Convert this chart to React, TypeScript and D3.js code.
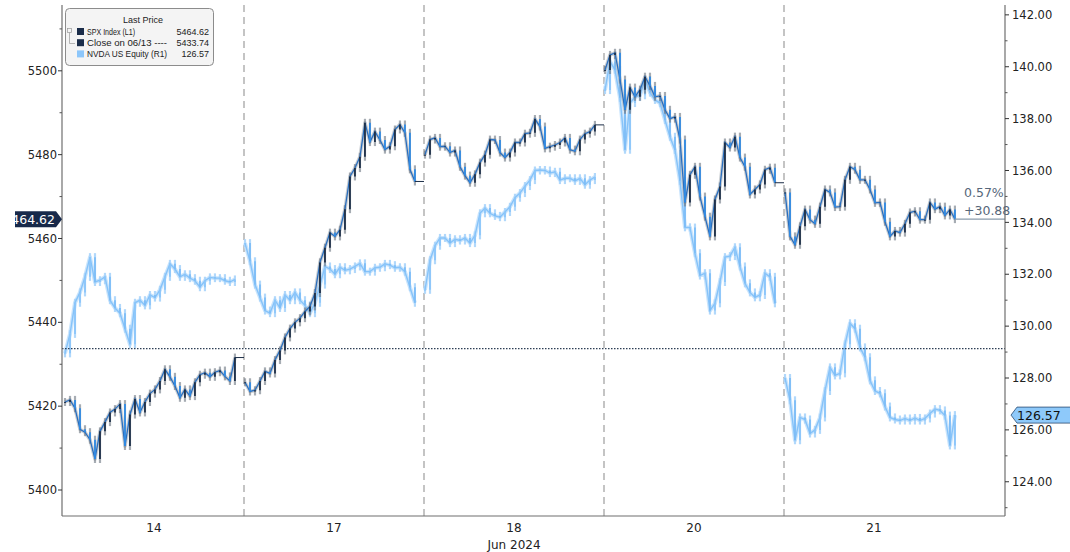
import React, { useEffect, useRef } from "react";
import * as d3 from "d3";

// trading days shown on the x axis
const dayLabels = ["14", "17", "18", "20", "21"];
const monthLabel = "Jun 2024";

// SPX Index intraday closes (left axis), one array per session
const spx14 = [5421, 5421.5, 5419.5, 5414.5, 5413.8, 5412, 5407.4, 5414, 5416.2, 5418.5, 5419.3, 5420.5, 5410.5, 5418, 5421.7, 5418.5, 5421, 5423, 5424, 5426, 5428.8, 5427, 5424.8, 5422, 5424, 5422.4, 5425.7, 5427.5, 5428, 5427, 5428.1, 5428.5, 5427.1, 5426, 5431.6];
const spx17 = [5425.7, 5423.5, 5423.8, 5426, 5428.3, 5427.8, 5431, 5433.3, 5436.4, 5438.5, 5440, 5441, 5442.6, 5443.8, 5447, 5454.3, 5457.8, 5461.4, 5460.5, 5462.1, 5467, 5474.8, 5476.8, 5479.5, 5487.6, 5483, 5485.5, 5483.5, 5481.2, 5482, 5486, 5487.2, 5485.2, 5476.5, 5473.6];
const spx18 = [5480, 5483.6, 5484, 5481.9, 5482, 5480.5, 5481, 5477.1, 5475, 5473.3, 5475.3, 5478.1, 5480, 5483.6, 5483.5, 5480.5, 5479.3, 5480.5, 5482.9, 5482.9, 5485, 5485.2, 5488.5, 5486.7, 5481.5, 5481.9, 5482.3, 5482.9, 5484, 5481.2, 5480.8, 5483.6, 5485, 5485.5, 5487.1];
const spx20 = [5500.2, 5503.8, 5504.3, 5497.9, 5490.7, 5496, 5493.8, 5495.5, 5498.6, 5496.4, 5493.8, 5494, 5490.7, 5488.6, 5489, 5483.6, 5468.6, 5475.2, 5477.1, 5470, 5465.2, 5460.5, 5469.3, 5472.4, 5482.9, 5481.7, 5484.3, 5479.3, 5477.1, 5470.5, 5471.7, 5472.9, 5476.4, 5476.9, 5473.3];
const spx21 = [5471, 5460.5, 5458.5, 5462.9, 5466.9, 5464.5, 5463.5, 5467.6, 5471.7, 5471, 5467.5, 5467.6, 5474, 5477.1, 5476.4, 5474, 5474, 5471.7, 5468.5, 5468.6, 5464, 5460.5, 5461.8, 5461.4, 5463.5, 5466.2, 5466.5, 5464.5, 5464.5, 5468.6, 5467, 5467.6, 5465.5, 5466.9, 5464.62];

// NVDA US Equity intraday prices (right axis)
const nvda14 = [128.95, 129.7, 130.9, 131.3, 131.9, 132.66, 131.7, 131.77, 131.9, 131, 130.7, 130.5, 129.9, 129.3, 130.9, 131, 130.8, 131.2, 131.1, 131.4, 131.9, 132.4, 132.2, 131.9, 132.0, 131.85, 131.75, 131.5, 131.75, 131.88, 131.85, 131.85, 131.75, 131.7, 131.8];
const nvda17 = [133.2, 132.5, 131.6, 131.1, 130.6, 130.5, 131.0, 130.7, 131.2, 131.0, 131.3, 131.0, 130.8, 130.5, 130.9, 131.6, 132.3, 132.2, 132.0, 132.27, 132.15, 132.2, 132.3, 132.42, 132.1, 132.1, 132.25, 132.27, 132.4, 132.35, 132.25, 132.27, 132.1, 131.5, 130.9];
const nvda18 = [131.4, 132.54, 133.1, 133.4, 133.4, 133.2, 133.35, 133.3, 133.4, 133.2, 133.5, 134.35, 134.55, 134.35, 134.25, 134.2, 134.4, 134.6, 134.95, 135.13, 135.4, 135.63, 136.0, 136.02, 136.0, 135.9, 135.95, 135.63, 135.7, 135.7, 135.6, 135.7, 135.45, 135.63, 135.75];
const nvda20 = [139.1, 140.2, 139.88, 138.8, 136.8, 138.6, 138.83, 138.9, 139.49, 139.0, 138.72, 138.6, 137.95, 137.3, 136.79, 135.6, 133.81, 133.8, 132.81, 131.95, 132.04, 130.6, 130.88, 131.7, 132.66, 132.7, 133.04, 132.3, 131.65, 131.3, 131.11, 131.2, 132.04, 131.9, 130.88];
const nvda21 = [128.0, 127.14, 125.6, 126.48, 126.4, 125.86, 126.0, 126.48, 127.5, 128.41, 128.1, 128.18, 129.3, 130.11, 129.9, 129.18, 128.8, 127.91, 127.5, 127.41, 126.9, 126.48, 126.4, 126.36, 126.44, 126.36, 126.46, 126.36, 126.44, 126.63, 126.8, 126.75, 126.55, 125.4, 126.57];

const spxDays = [spx14, spx17, spx18, spx20, spx21];
const nvdaDays = [nvda14, nvda17, nvda18, nvda20, nvda21];

const leftTicks = [5400, 5420, 5440, 5460, 5480, 5500];
const leftMinor = [5410, 5430, 5450, 5470, 5490, 5510];
const rightTicks = [124, 126, 128, 130, 132, 134, 136, 138, 140, 142];
const rightMinor = [123, 125, 127, 129, 131, 133, 135, 137, 139, 141];

const prevClose = 5433.74;
const spxLast = 5464.62;
const nvdaLast = 126.57;
const changePct = "0.57%";
const changeAbs = "+30.88";

const legendRows = [
  { label: "SPX Index  (L1)", value: "5464.62", color: "#1b2d4a", len: 48 },
  { label: "Close on 06/13 ----", value: "5433.74", color: "#1b2d4a", len: 80 },
  { label: "NVDA US Equity  (R1)", value: "126.57", color: "#8cc6fa", len: 80 },
];

const W = 1070;
const H = 552;
const plot = { left: 62, right: 1005, top: 5, bottom: 516 };
const FONT = "'DejaVu Sans', Verdana, sans-serif";

type Style = {
  halo: string;
  haloOp: number;
  haloW: number;
  wick: string;
  wickOp: number;
  up: string;
  down: string;
  line: string;
  lineW: number;
};

const App: React.FC = () => {
  const ref = useRef<SVGSVGElement | null>(null);

  useEffect(() => {
    if (!ref.current) return;
    const svg = d3.select(ref.current);
    svg.selectAll("*").remove();

    const x = d3.scaleLinear().domain([0, 5]).range([64, 964]);
    const yL = d3.scaleLinear().domain([5393.8, 5515.7]).range([plot.bottom, plot.top]);
    const yR = d3.scaleLinear().domain([122.68, 142.38]).range([plot.bottom, plot.top]);
    const pos = (d: number, i: number, n: number) => x(d + 0.0056 + (i * 0.944) / (n - 1));

    const defs = svg.append("defs");
    defs
      .append("clipPath")
      .attr("id", "plotclip")
      .append("rect")
      .attr("x", plot.left)
      .attr("y", plot.top)
      .attr("width", plot.right - plot.left)
      .attr("height", plot.bottom - plot.top);
    defs
      .append("clipPath")
      .attr("id", "tagclip")
      .append("rect")
      .attr("x", 15)
      .attr("y", 0)
      .attr("width", 60)
      .attr("height", H);

    // day separators
    svg
      .append("g")
      .selectAll("line")
      .data([1, 2, 3, 4])
      .join("line")
      .attr("x1", (d) => x(d))
      .attr("x2", (d) => x(d))
      .attr("y1", plot.top)
      .attr("y2", plot.bottom)
      .attr("stroke", "#c4c4c4")
      .attr("stroke-width", 2)
      .attr("stroke-dasharray", "7 5");

    const drawSeries = (days: number[][], y: d3.ScaleLinear<number, number>, c: Style) => {
      const g = svg.append("g").attr("clip-path", "url(#plotclip)");
      const line = d3
        .line<{ x: number; c: number }>()
        .x((p) => p.x)
        .y((p) => y(p.c));
      days.forEach((vals, d) => {
        const n = vals.length;
        const pts = vals.map((v, i) => ({ x: pos(d, i, n), o: i === 0 ? v : vals[i - 1], c: v }));
        // soft band behind the price trace
        g.append("path")
          .datum(pts)
          .attr("fill", "none")
          .attr("stroke", c.halo)
          .attr("stroke-opacity", c.haloOp)
          .attr("stroke-width", c.haloW)
          .attr("stroke-linejoin", "round")
          .attr("d", line);
        g.selectAll(null)
          .data(pts)
          .join("line")
          .attr("x1", (p) => p.x)
          .attr("x2", (p) => p.x)
          .attr("y1", (p) => y(Math.max(p.o, p.c)) - 4)
          .attr("y2", (p) => y(Math.min(p.o, p.c)) + 4)
          .attr("stroke", c.wick)
          .attr("stroke-opacity", c.wickOp)
          .attr("stroke-width", 2.2);
        g.append("path")
          .datum(pts)
          .attr("fill", "none")
          .attr("stroke", c.line)
          .attr("stroke-width", c.lineW)
          .attr("d", line);
        g.selectAll(null)
          .data(pts)
          .join("line")
          .attr("x1", (p) => p.x)
          .attr("x2", (p) => p.x)
          .attr("y1", (p) => y(p.o))
          .attr("y2", (p) => y(p.c) + (p.c === p.o ? 1 : 0))
          .attr("stroke", (p) => (p.c >= p.o ? c.up : c.down))
          .attr("stroke-width", 1.8);
      });
    };

    drawSeries(nvdaDays, yR, {
      halo: "#c3e1fc",
      haloOp: 0.9,
      haloW: 4,
      wick: "#a9d4fb",
      wickOp: 0.9,
      up: "#8cc6fa",
      down: "#7dbdf7",
      line: "#86c3f9",
      lineW: 1.4,
    });

    // previous close reference
    svg
      .append("line")
      .attr("x1", plot.left)
      .attr("x2", plot.right)
      .attr("y1", yL(prevClose))
      .attr("y2", yL(prevClose))
      .attr("stroke", "#2d3e55")
      .attr("stroke-width", 1.2)
      .attr("stroke-dasharray", "1.5 1.5");

    drawSeries(spxDays, yL, {
      halo: "#8a939c",
      haloOp: 0.45,
      haloW: 3.5,
      wick: "#6b7580",
      wickOp: 0.6,
      up: "#1d2f48",
      down: "#2f8be6",
      line: "#2a6fbf",
      lineW: 1.3,
    });

    // close carried to session end
    spxDays.forEach((vals, d) => {
      const last = vals[vals.length - 1];
      const x0 = pos(d, vals.length - 1, vals.length);
      const isLast = d === spxDays.length - 1;
      svg
        .append("line")
        .attr("x1", x0)
        .attr("x2", isLast ? plot.right : x(d + 1))
        .attr("y1", yL(last))
        .attr("y2", yL(last))
        .attr("stroke", isLast ? "#8a9bab" : "#1d2f48")
        .attr("stroke-width", isLast ? 1.3 : 1);
    });

    // frame
    const frame = svg.append("g").attr("stroke", "#6f6f6f").attr("stroke-width", 1.2);
    frame.append("line").attr("x1", plot.left).attr("x2", plot.left).attr("y1", plot.top).attr("y2", plot.bottom);
    frame.append("line").attr("x1", plot.right).attr("x2", plot.right).attr("y1", plot.top).attr("y2", plot.bottom);
    frame.append("line").attr("x1", plot.left).attr("x2", plot.right).attr("y1", plot.bottom).attr("y2", plot.bottom);

    // left axis
    const la = svg.append("g");
    la.selectAll("line.maj")
      .data(leftTicks)
      .join("line")
      .attr("x1", plot.left - 4)
      .attr("x2", plot.left)
      .attr("y1", (d) => yL(d))
      .attr("y2", (d) => yL(d))
      .attr("stroke", "#333");
    la.selectAll("line.min")
      .data(leftMinor)
      .join("line")
      .attr("x1", plot.left - 2.5)
      .attr("x2", plot.left)
      .attr("y1", (d) => yL(d))
      .attr("y2", (d) => yL(d))
      .attr("stroke", "#555");
    la.selectAll("text")
      .data(leftTicks)
      .join("text")
      .attr("x", plot.left - 5)
      .attr("y", (d) => yL(d))
      .attr("dy", "0.36em")
      .attr("text-anchor", "end")
      .attr("font-family", FONT)
      .attr("font-size", 11.5)
      .attr("fill", "#222")
      .text((d) => d3.format("d")(d));

    // right axis
    const ra = svg.append("g");
    ra.selectAll("line.maj")
      .data(rightTicks)
      .join("line")
      .attr("x1", plot.right)
      .attr("x2", plot.right + 4)
      .attr("y1", (d) => yR(d))
      .attr("y2", (d) => yR(d))
      .attr("stroke", "#333");
    ra.selectAll("line.min")
      .data(rightMinor)
      .join("line")
      .attr("x1", plot.right)
      .attr("x2", plot.right + 2.5)
      .attr("y1", (d) => yR(d))
      .attr("y2", (d) => yR(d))
      .attr("stroke", "#555");
    ra.selectAll("text")
      .data(rightTicks)
      .join("text")
      .attr("x", plot.right + 7)
      .attr("y", (d) => yR(d))
      .attr("dy", "0.36em")
      .attr("font-family", FONT)
      .attr("font-size", 11.5)
      .attr("fill", "#222")
      .text((d) => d3.format(".2f")(d));

    // x labels
    svg
      .append("g")
      .selectAll("text")
      .data(dayLabels)
      .join("text")
      .attr("x", (_, i) => x(i + 0.5))
      .attr("y", 532)
      .attr("text-anchor", "middle")
      .attr("font-family", FONT)
      .attr("font-size", 12)
      .attr("fill", "#222")
      .text((d) => d);
    svg
      .append("text")
      .attr("x", x(2.5))
      .attr("y", 549)
      .attr("text-anchor", "middle")
      .attr("font-family", FONT)
      .attr("font-size", 12)
      .attr("fill", "#222")
      .text(monthLabel);

    // change annotation
    svg
      .append("text")
      .attr("x", 964)
      .attr("y", 197)
      .attr("font-family", FONT)
      .attr("font-size", 12.5)
      .attr("fill", "#56677a")
      .text(changePct);
    svg
      .append("text")
      .attr("x", 964)
      .attr("y", 215)
      .attr("font-family", FONT)
      .attr("font-size", 12.5)
      .attr("fill", "#56677a")
      .text(changeAbs);

    // last price tags
    const ly = yL(spxLast);
    const lt = svg.append("g").attr("clip-path", "url(#tagclip)");
    lt.append("path")
      .attr("d", `M0,${ly - 8}H56L62,${ly}L56,${ly + 8}H0Z`)
      .attr("fill", "#17294a");
    lt.append("text")
      .attr("x", 55)
      .attr("y", ly)
      .attr("dy", "0.36em")
      .attr("text-anchor", "end")
      .attr("font-family", FONT)
      .attr("font-size", 12.5)
      .attr("fill", "#fff")
      .text(d3.format(".2f")(spxLast));

    const ry = yR(nvdaLast);
    svg
      .append("path")
      .attr("d", `M${plot.right + 6},${ry}L${plot.right + 12},${ry - 8}H${W + 2}V${ry + 8}H${plot.right + 12}Z`)
      .attr("fill", "#8ec9fa")
      .attr("stroke", "#2a4a70")
      .attr("stroke-width", 0.8);
    svg
      .append("text")
      .attr("x", plot.right + 12)
      .attr("y", ry)
      .attr("dy", "0.36em")
      .attr("font-family", FONT)
      .attr("font-size", 12.5)
      .attr("fill", "#111")
      .text(d3.format(".2f")(nvdaLast));

    // legend
    const lg = svg.append("g").attr("font-family", "'Liberation Sans', Arial, sans-serif");
    lg.append("rect")
      .attr("x", 65.5)
      .attr("y", 8.5)
      .attr("width", 148)
      .attr("height", 57)
      .attr("rx", 4)
      .attr("fill", "#f4f4f4")
      .attr("stroke", "#8c8c8c");
    lg.append("text")
      .attr("x", 143)
      .attr("y", 23)
      .attr("text-anchor", "middle")
      .attr("font-size", 9)
      .attr("fill", "#222")
      .attr("textLength", 40)
      .attr("lengthAdjust", "spacingAndGlyphs")
      .text("Last Price");
    lg.append("rect")
      .attr("x", 67.5)
      .attr("y", 28.5)
      .attr("width", 4)
      .attr("height", 4)
      .attr("fill", "none")
      .attr("stroke", "#999")
      .attr("stroke-width", 0.7);
    lg.append("path")
      .attr("d", "M69.5,32.5V43.5H75")
      .attr("fill", "none")
      .attr("stroke", "#999")
      .attr("stroke-width", 0.7);
    legendRows.forEach((r, i) => {
      const by = 35 + i * 11.2;
      lg.append("rect").attr("x", 77).attr("y", by - 7).attr("width", 7).attr("height", 7).attr("fill", r.color);
      lg.append("text")
        .attr("x", 87)
        .attr("y", by)
        .attr("font-size", 9)
        .attr("fill", "#222")
        .attr("textLength", r.len)
        .attr("lengthAdjust", "spacingAndGlyphs")
        .text(r.label);
      lg.append("text")
        .attr("x", 209)
        .attr("y", by)
        .attr("text-anchor", "end")
        .attr("font-size", 9)
        .attr("fill", "#222")
        .text(r.value);
    });
  }, []);

  return (
    <svg
      ref={ref}
      width={W}
      height={H}
      style={{ position: "absolute", left: 0, top: 0, background: "#fff", display: "block" }}
    ></svg>
  );
};

export default App;
